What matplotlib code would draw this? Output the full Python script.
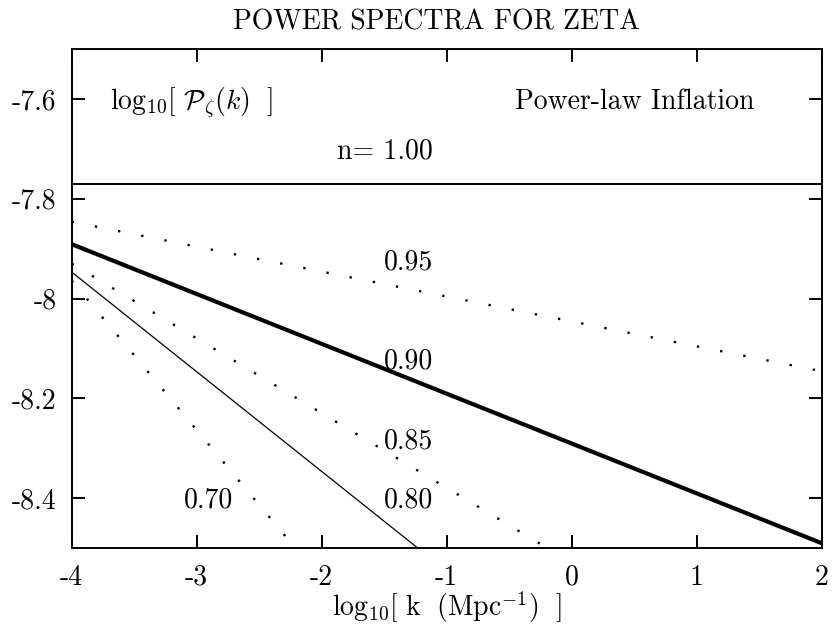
import matplotlib
matplotlib.use("Agg")
import matplotlib.pyplot as plt

# ---- data ----
n_values = [1.00, 0.95, 0.90, 0.85, 0.80, 0.70]
logk_ends = [-4.0, 2.0]
logP_at_kmin = [-7.770, -7.846, -7.891, -7.930, -7.947, -7.964]
logP_at_kmax = [-7.770, -8.146, -8.491, -8.830, -9.147, -9.764]
x_ticks = [-4, -3, -2, -1, 0, 1, 2]
x_tick_labels = ["-4", "-3", "-2", "-1", "0", "1", "2"]
y_ticks = [-7.6, -7.8, -8.0, -8.2, -8.4]
y_tick_labels = ["-7.6", "-7.8", "-8", "-8.2", "-8.4"]
curve_labels = ["n= 1.00", "0.95", "0.90", "0.85", "0.80", "0.70"]

plt.rcParams['font.family'] = 'cmr10'
plt.rcParams['mathtext.fontset'] = 'cm'
plt.rcParams['axes.unicode_minus'] = False
plt.rcParams['axes.formatter.use_mathtext'] = True

FS = 20
W, H = 832, 624
fig = plt.figure(figsize=(W / 100, H / 100), dpi=100)
ax = fig.add_axes([71.7 / W, 1 - 547.7 / H, (821.7 - 71.7) / W, (547.7 - 49.3) / H])

styles = [
    dict(color='black', lw=1.4, ls='-'),
    dict(color='black', lw=1.7, ls=(0, (1, 9.0))),
    dict(color='black', lw=3.0, ls='-'),
    dict(color='black', lw=1.7, ls=(0, (1, 9.0))),
    dict(color='black', lw=0.9, ls='-'),
    dict(color='black', lw=1.7, ls=(0, (1, 9.0))),
]
for i in range(len(n_values)):
    ax.plot(logk_ends, [logP_at_kmin[i], logP_at_kmax[i]], **styles[i])

ax.set_xlim(-4, 2)
ax.set_ylim(-8.5, -7.5)
ax.set_xticks(x_ticks)
ax.set_xticklabels(x_tick_labels)
ax.set_yticks(y_ticks)
ax.set_yticklabels(y_tick_labels)
ax.tick_params(axis='both', direction='in', length=9.5, width=1.4,
               top=True, right=True, labelsize=FS)
ax.tick_params(axis='y', pad=11)
ax.tick_params(axis='x', pad=12)
for s in ax.spines.values():
    s.set_linewidth(1.4)

label_pos = [(-1.115, -7.720), (-1.11, -7.942), (-1.11, -8.140),
             (-1.11, -8.301), (-1.11, -8.419), (-2.71, -8.419)]
for lab, (x, y) in zip(curve_labels, label_pos):
    ax.text(x, y, lab, ha='right', va='baseline', fontsize=FS)

ax.text(-3.69, -7.62, r'$\mathrm{log}_{10}[\ \mathcal{P}_\zeta(k)\ \ ]$', ha='left',
        va='baseline', fontsize=FS)
ax.text(1.466, -7.619, 'Power-law Inflation', ha='right', va='baseline',
        fontsize=FS)

fig.text(436.5 / W, 1 - 22 / H, 'POWER SPECTRA FOR ZETA', ha='center',
         va='center', fontsize=FS)
fig.text(446.7 / W, 1 - 616 / H,
         r'$\mathrm{log}_{10}[\ \mathrm{k}\ \ (\mathrm{Mpc}^{-1})\ \ ]$',
         ha='center', va='baseline', fontsize=FS)

fig.savefig('out.png', dpi=100)
